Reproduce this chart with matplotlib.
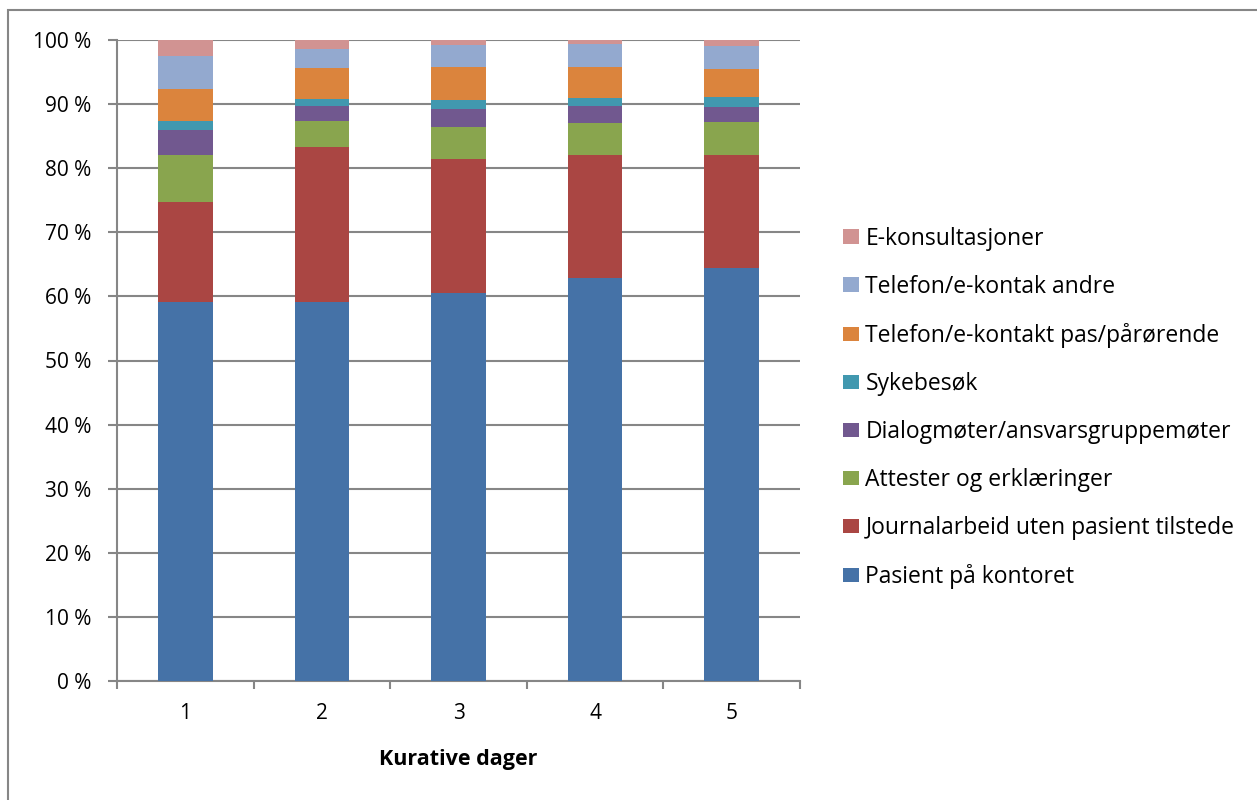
import matplotlib
matplotlib.use("Agg")
import matplotlib.pyplot as plt
import numpy as np

plt.rcParams['font.family'] = ['Open Sans', 'DejaVu Sans']

days = ['1', '2', '3', '4', '5']
categories = ['Pasient på kontoret',
              'Journalarbeid uten pasient tilstede',
              'Attester og erklæringer',
              'Dialogmøter/ansvarsgruppemøter',
              'Sykebesøk',
              'Telefon/e-kontakt pas/pårørende',
              'Telefon/e-kontak andre',
              'E-konsultasjoner']

pasient = [59.2, 59.2, 60.5, 62.8, 64.4]
journal = [15.5, 24.1, 21.0, 19.2, 17.6]
attester = [7.4, 4.1, 4.9, 5.1, 5.2]
dialog = [3.9, 2.3, 2.9, 2.6, 2.3]
sykebesok = [1.4, 1.1, 1.3, 1.3, 1.6]
tlf_pas = [4.9, 4.8, 5.2, 4.8, 4.4]
tlf_andre = [5.2, 3.0, 3.4, 3.5, 3.6]
ekons = [2.5, 1.4, 0.8, 0.7, 0.9]

series = [pasient, journal, attester, dialog, sykebesok, tlf_pas, tlf_andre, ekons]
colors = ['#4572A7', '#AA4643', '#89A54E', '#71588F', '#4198AF',
          '#DB843D', '#93A9CF', '#D19392']

fig = plt.figure(figsize=(12.57, 8), dpi=100)
ax = fig.add_axes([117/1257, 1 - 681/800, 683/1257, 641/800])

# outer frame like the excel chart area
fig.patches.append(plt.Rectangle((8/1257, -0.05), 1.1, 1 - 10/800 + 0.05,
                                 transform=fig.transFigure, fill=False,
                                 edgecolor='#868686', linewidth=1.5))

x = np.arange(len(days))
bottom = np.zeros(len(days))
for vals, c, lab in zip(series, colors, categories):
    vals = np.array(vals)
    ax.bar(x, vals, 0.4, bottom=bottom, color=c, label=lab, zorder=3)
    bottom += vals

fs = 15
ax.set_xlim(-0.5, len(days) - 0.5)
ax.set_ylim(0, 100)
ax.set_yticks(np.arange(0, 101, 10))
ax.set_yticklabels([f'{v} %' for v in range(0, 101, 10)], fontsize=fs)
ax.yaxis.grid(True, color='#868686', linewidth=1.5, zorder=0)
ax.set_xticks(x)
ax.set_xticklabels(days, fontsize=fs)
ax.set_xticks(np.arange(-0.5, len(days)), minor=True)
ax.tick_params(axis='x', which='major', length=0, pad=16)
ax.tick_params(axis='x', which='minor', length=6, color='#868686', width=1.5)
ax.tick_params(axis='y', length=6.5, color='#868686', width=1.5, pad=12)
for s in ['top', 'right']:
    ax.spines[s].set_visible(False)
for s in ['left', 'bottom']:
    ax.spines[s].set_color('#868686')
    ax.spines[s].set_linewidth(1.5)
ax.set_xlabel('Kurative dager', fontsize=15.5, fontweight='bold', labelpad=18)

handles, labels = ax.get_legend_handles_labels()
fig.legend(handles[::-1], labels[::-1], loc='center left',
           bbox_to_anchor=(843/1257, 1 - 408/800), frameon=False,
           fontsize=16.5, handlelength=0.7, handleheight=0.6,
           labelspacing=1.05, handletextpad=0.28, borderpad=0,
           borderaxespad=0)

fig.savefig('out.png', dpi=100)
